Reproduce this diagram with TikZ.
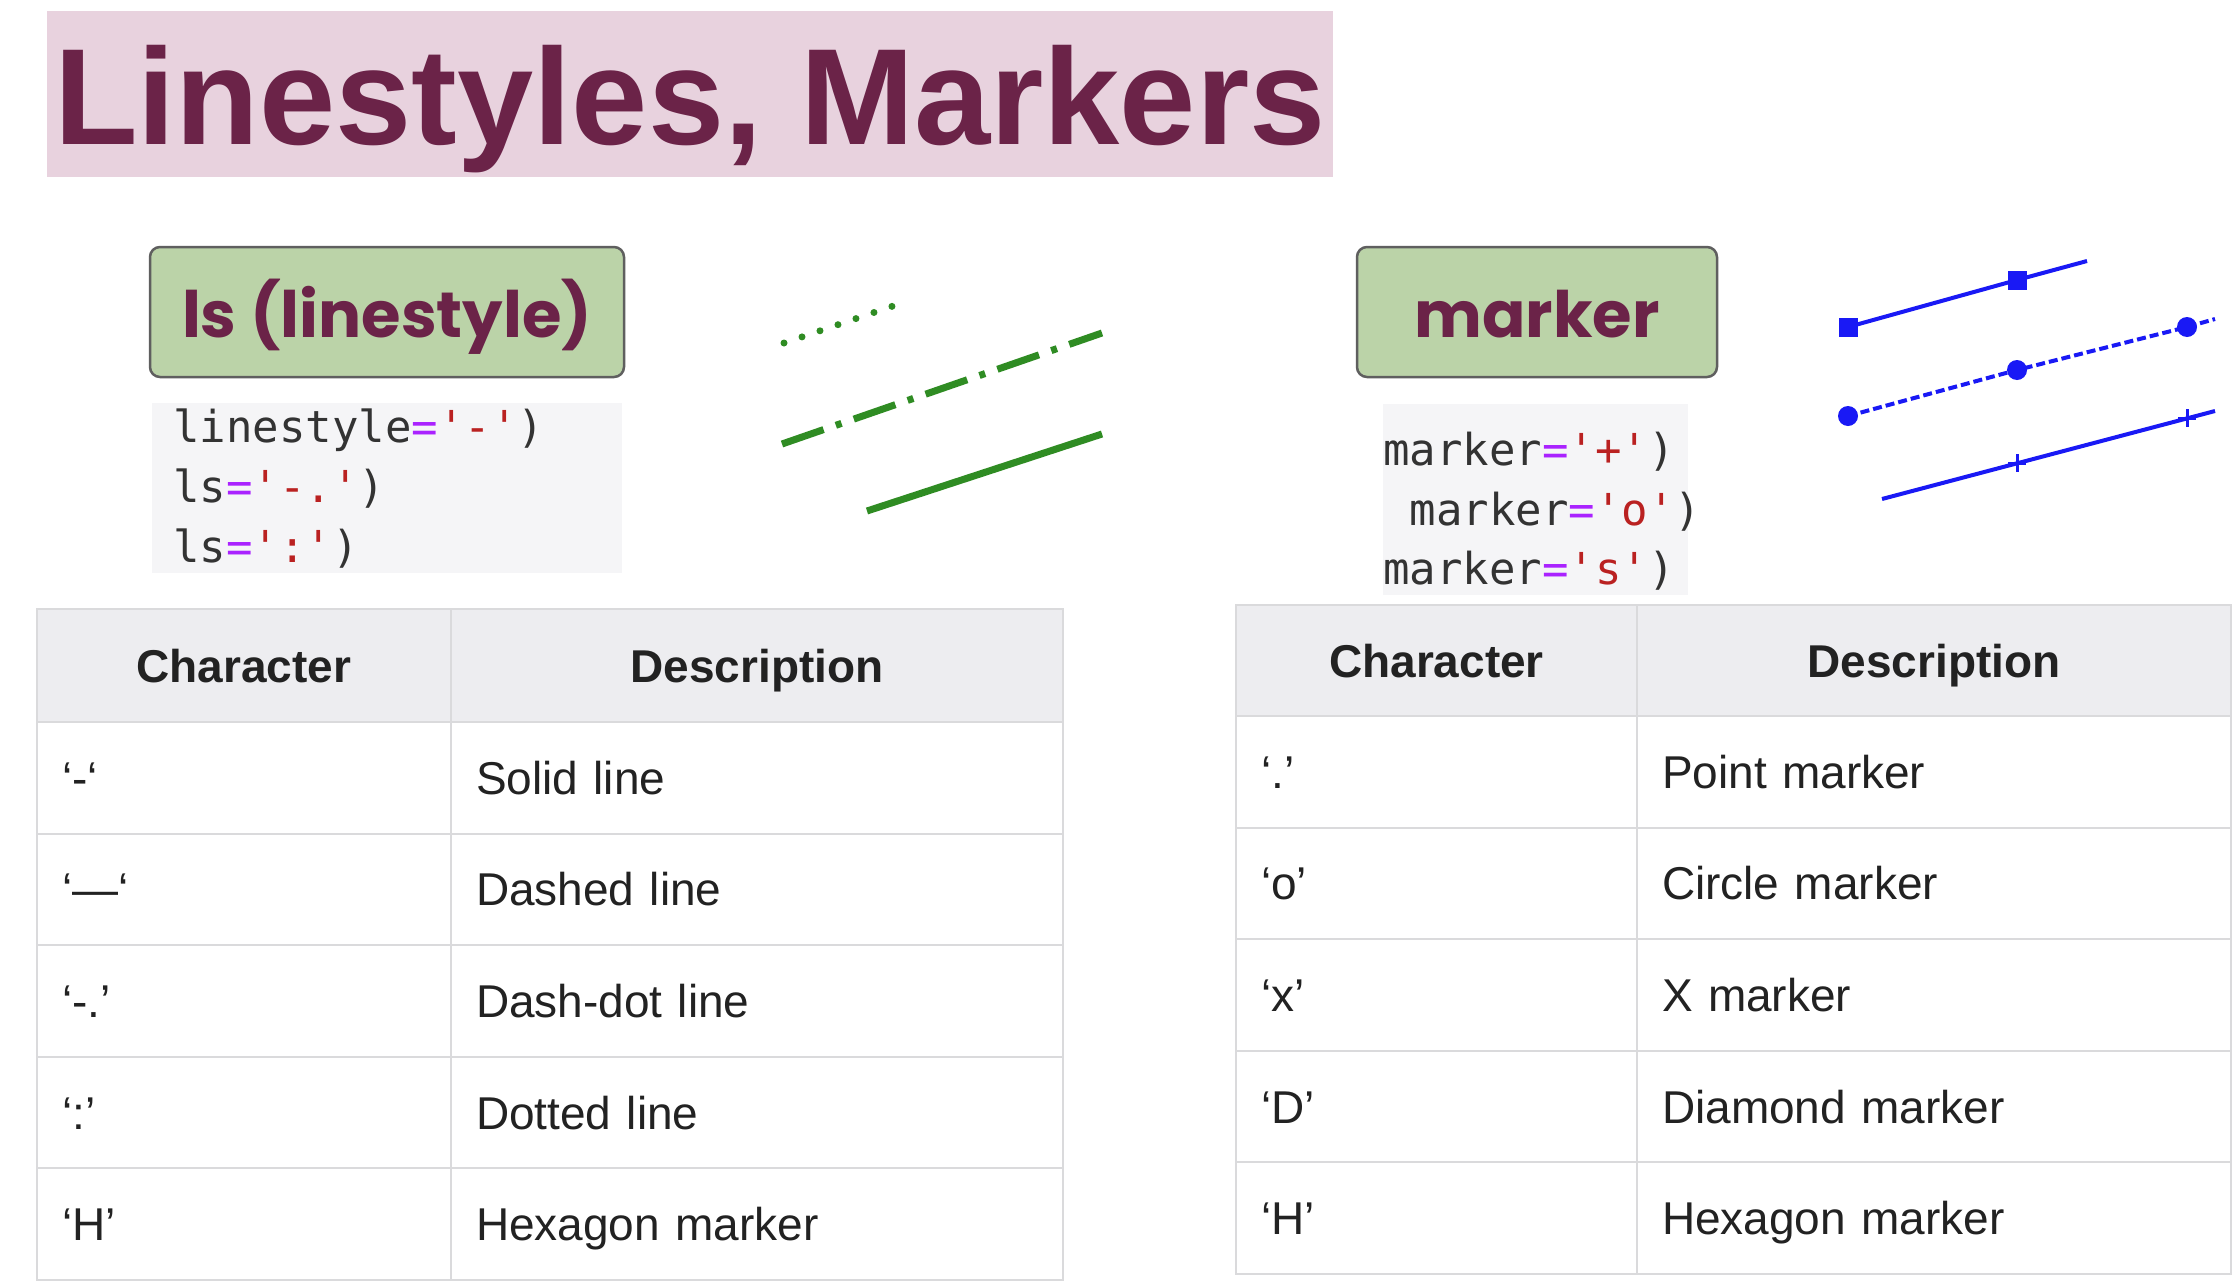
\documentclass[tikz,border=0pt]{standalone}
\usepackage{fontspec}
\setmainfont{Liberation Sans}
\newfontfamily\labelfont{Poppins}
\newfontfamily\codefont{DejaVu Sans Mono}
\usepackage{xcolor}
\usetikzlibrary{positioning}

\begin{document}
\begin{tikzpicture}[x=1pt, y=-1pt]

  \definecolor{my_maroon}{RGB}{107,35,72}
  \definecolor{my_pink}{RGB}{232,210,222}
  \definecolor{my_green_light}{RGB}{187,211,168}
  \definecolor{my_green}{RGB}{47,140,35}
  \definecolor{my_blue}{RGB}{25,25,245}
  \definecolor{my_gray_dark}{RGB}{95,95,95}
  \definecolor{my_code_bg}{RGB}{245,245,247}
  \definecolor{my_code_text}{RGB}{51,51,51}
  \definecolor{my_purple}{RGB}{170,34,255}
  \definecolor{my_red}{RGB}{186,33,33}
  \definecolor{my_border}{RGB}{218,218,220}
  \definecolor{my_header}{RGB}{237,237,240}
  \definecolor{my_text}{RGB}{34,34,34}

  \tikzstyle{titlebox} = [rectangle, fill=my_pink, text=my_maroon, minimum width=1286pt, minimum height=166pt, inner sep=0pt, text height=100pt, text depth=0pt, font=\fontsize{137}{137}\selectfont\bfseries]
  \tikzstyle{block} = [rectangle, draw=my_gray_dark, line width=2.5pt, rounded corners=10pt, fill=my_green_light, text=my_maroon, minimum height=130pt, inner sep=0pt, text height=50pt, text depth=0pt, font=\labelfont\fontsize{64}{64}\selectfont\bfseries]
  \tikzstyle{codebox} = [rectangle, fill=my_code_bg, inner sep=0pt, anchor=north west]
  \tikzstyle{codeline} = [anchor=base west, inner sep=0pt, text=my_code_text, font=\codefont\fontsize{44}{44}\selectfont]
  \tikzstyle{cell} = [rectangle, draw=my_border, line width=2pt, inner ysep=0pt, outer sep=0pt, text=my_text, text height=33pt, text depth=0pt, font=\fontsize{46}{46}\selectfont]
  \tikzstyle{head} = [cell, fill=my_header, inner xsep=0pt, align=center, minimum height=113pt, font=\fontsize{46}{46}\selectfont\bfseries]
  \tikzstyle{body} = [cell, inner xsep=25pt, align=left, minimum height=111.6pt]
  \tikzstyle{green_line} = [my_green, line width=7pt]
  \tikzstyle{blue_line} = [my_blue, line width=4pt]
  \tikzstyle{square_mark} = [rectangle, fill=my_blue, minimum size=19pt, inner sep=0pt]
  \tikzstyle{circle_mark} = [circle, fill=my_blue, minimum size=20pt, inner sep=0pt]

  \fill[white] (0,0) rectangle (2238,1280);
  \useasboundingbox (0,0) rectangle (2238,1280);

  \node [titlebox] (title) at (690,94) {Linestyles, Markers};

  \node [block, minimum width=474pt] (ls_label) at (387,312) {ls (linestyle)};
  \node [block, minimum width=360pt] (marker_label) at (1537,312) {marker};

  % code snippets
  \node [codebox, minimum width=470pt, minimum height=170pt] (ls_code) at (152,403) {};
  \node [codeline] (ls_code_a) at ([xshift=21pt, yshift=-39pt]ls_code.north west) {linestyle\textcolor{my_purple}{=}\textcolor{my_red}{'-'})};
  \node [codeline] (ls_code_b) at ([xshift=21pt, yshift=-99pt]ls_code.north west) {ls\textcolor{my_purple}{=}\textcolor{my_red}{'-.'})};
  \node [codeline] (ls_code_c) at ([xshift=21pt, yshift=-159pt]ls_code.north west) {ls\textcolor{my_purple}{=}\textcolor{my_red}{':'})};

  \node [codebox, minimum width=305pt, minimum height=191pt] (mk_code) at (1383,404) {};
  \node [codeline] (mk_code_a) at ([yshift=-61pt]mk_code.north west) {marker\textcolor{my_purple}{=}\textcolor{my_red}{'+'})};
  \node [codeline] (mk_code_b) at ([xshift=26.5pt, yshift=-121pt]mk_code.north west) {marker\textcolor{my_purple}{=}\textcolor{my_red}{'o'})};
  \node [codeline] (mk_code_c) at ([yshift=-180pt]mk_code.north west) {marker\textcolor{my_purple}{=}\textcolor{my_red}{'s'})};

  % linestyle samples
  \coordinate (dotted_a) at (784,343);
  \coordinate (dotted_b) at (896,305);
  \coordinate (dashdot_a) at (782,444);
  \coordinate (dashdot_b) at (1102,333);
  \coordinate (solid_a) at (867,511);
  \coordinate (solid_b) at (1102,434);
  \path [draw, green_line, line cap=round, dash pattern=on 0pt off 19pt] (dotted_a) -- (dotted_b);
  \path [draw, green_line, dash pattern=on 44pt off 13pt on 6pt off 13pt] (dashdot_a) -- (dashdot_b);
  \path [draw, green_line] (solid_a) -- (solid_b);

  % marker samples
  \node [square_mark] (sq_a) at (1848,327) {};
  \node [square_mark] (sq_b) at (2017,280) {};
  \coordinate (sq_end) at (2087,261);
  \path [draw, blue_line] (sq_a.center) -- (sq_b.center) -- (sq_end);

  \node [circle_mark] (ci_a) at (1848,416) {};
  \node [circle_mark] (ci_b) at (2017,370) {};
  \node [circle_mark] (ci_c) at (2187,327) {};
  \coordinate (ci_end) at (2215,319);
  \path [draw, blue_line, dash pattern=on 9pt off 4pt] (ci_a.center) -- (ci_b.center) -- (ci_c.center) -- (ci_end);

  \coordinate (pl_start) at (1882,499);
  \coordinate (pl_a) at (2017,463);
  \coordinate (pl_b) at (2187,418);
  \coordinate (pl_end) at (2215,411);
  \path [draw, blue_line] (pl_start) -- (pl_end);
  \path [draw, my_blue, line width=3pt] ([yshift=9pt]pl_a) -- ([yshift=-9pt]pl_a) ([xshift=-9pt]pl_a) -- ([xshift=9pt]pl_a);
  \path [draw, my_blue, line width=3pt] ([yshift=9pt]pl_b) -- ([yshift=-9pt]pl_b) ([xshift=-9pt]pl_b) -- ([xshift=9pt]pl_b);

  % linestyle table
  \node [head, anchor=north west, text width=414pt] (ls_char) at (37,609) {Character};
  \node [head, right=0pt of ls_char, text width=612pt] (ls_desc) {Description};
  \node [body, below=0pt of ls_char, text width=364pt] (ls_c1) {‘-‘};
  \node [body, below=0pt of ls_desc, text width=562pt] (ls_d1) {Solid line};
  \node [body, below=0pt of ls_c1, text width=364pt] (ls_c2) {‘—‘};
  \node [body, below=0pt of ls_d1, text width=562pt] (ls_d2) {Dashed line};
  \node [body, below=0pt of ls_c2, text width=364pt] (ls_c3) {‘-.’};
  \node [body, below=0pt of ls_d2, text width=562pt] (ls_d3) {Dash-dot line};
  \node [body, below=0pt of ls_c3, text width=364pt] (ls_c4) {‘:’};
  \node [body, below=0pt of ls_d3, text width=562pt] (ls_d4) {Dotted line};
  \node [body, below=0pt of ls_c4, text width=364pt] (ls_c5) {‘H’};
  \node [body, below=0pt of ls_d4, text width=562pt] (ls_d5) {Hexagon marker};

  % marker table
  \node [head, anchor=north west, minimum height=111pt, text width=401pt] (mk_char) at (1236,605) {Character};
  \node [head, right=0pt of mk_char, minimum height=111pt, text width=594pt] (mk_desc) {Description};
  \node [body, below=0pt of mk_char, text width=351pt] (mk_c1) {‘.’};
  \node [body, below=0pt of mk_desc, text width=544pt] (mk_d1) {Point marker};
  \node [body, below=0pt of mk_c1, text width=351pt] (mk_c2) {‘o’};
  \node [body, below=0pt of mk_d1, text width=544pt] (mk_d2) {Circle marker};
  \node [body, below=0pt of mk_c2, text width=351pt] (mk_c3) {‘x’};
  \node [body, below=0pt of mk_d2, text width=544pt] (mk_d3) {X marker};
  \node [body, below=0pt of mk_c3, text width=351pt] (mk_c4) {‘D’};
  \node [body, below=0pt of mk_d3, text width=544pt] (mk_d4) {Diamond marker};
  \node [body, below=0pt of mk_c4, text width=351pt] (mk_c5) {‘H’};
  \node [body, below=0pt of mk_d4, text width=544pt] (mk_d5) {Hexagon marker};

\end{tikzpicture}
\end{document}
